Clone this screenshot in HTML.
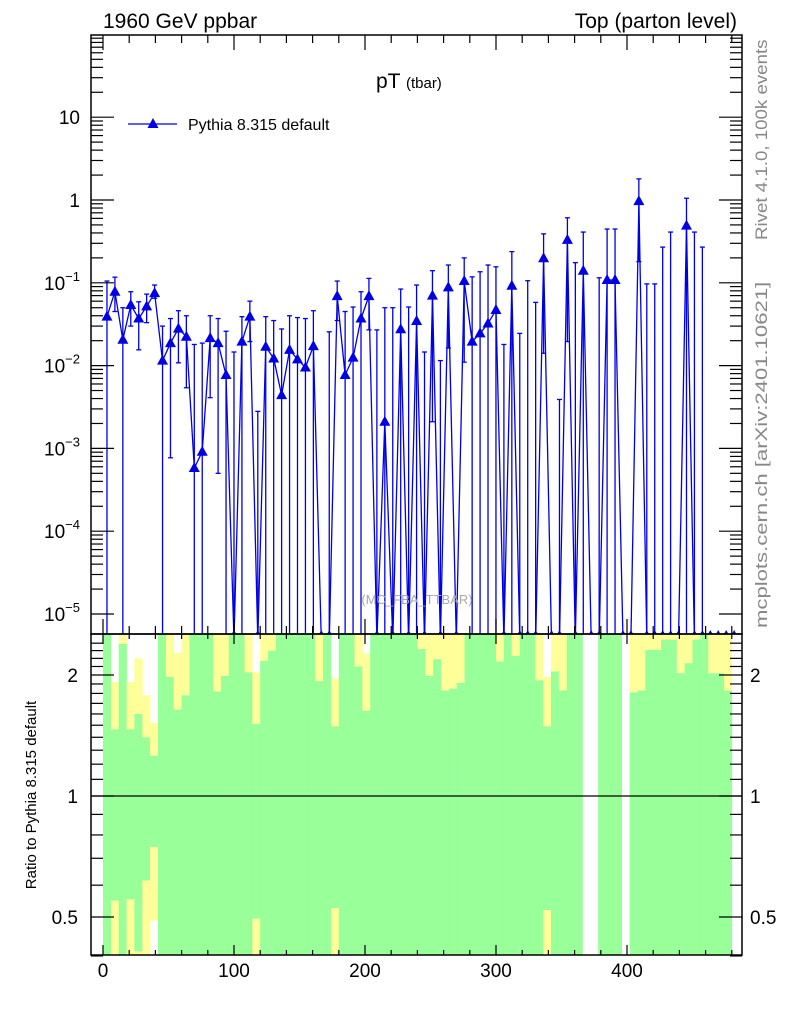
<!DOCTYPE html>
<html><head><meta charset="utf-8">
<style>
html,body{margin:0;padding:0;background:#fff;}
svg{display:block;font-family:"Liberation Sans",Arial,sans-serif;}
</style></head>
<body>
<svg id="chart" width="786" height="1024" viewBox="0 0 786 1024" xmlns="http://www.w3.org/2000/svg">
<defs>
<clipPath id="mainClip"><rect x="91" y="35" width="651" height="599"/></clipPath>
<clipPath id="ratioClip"><rect x="91" y="634" width="651" height="321"/></clipPath>
</defs>
<g id="ratioLayer" clip-path="url(#ratioClip)"></g>
<g id="mainLayer" clip-path="url(#mainClip)"></g>
<g id="axes"></g>
<text x="103" y="28" font-size="21">1960 GeV ppbar</text>
<text x="737" y="28" font-size="21" text-anchor="end">Top (parton level)</text>
<text x="376" y="88" font-size="21">pT <tspan font-size="15">(tbar)</tspan></text>
<g>
<line x1="128" y1="124" x2="177" y2="124" stroke="#0000e6" stroke-width="1.3"/>
<polygon points="153,118 147.5,128 158.5,128" fill="#0000e6"/>
<text x="188" y="130" font-size="16">Pythia 8.315 default</text>
</g>
<text x="417" y="604" font-size="13" fill="#aaaaaa" text-anchor="middle">(MC_FBA_TTBAR)</text>
<g transform="translate(767,240) rotate(-90)"><text transform="scale(1.1,1)" x="0" y="0" font-size="17" fill="#888">Rivet 4.1.0,  100k events</text></g>
<g transform="translate(767,628) rotate(-90)"><text transform="scale(1.3,1)" x="0" y="0" font-size="17" fill="#888">mcplots.cern.ch [arXiv:2401.10621]</text></g>
<text transform="translate(36,795) rotate(-90)" font-size="15" text-anchor="middle">Ratio to Pythia 8.315 default</text>
</svg>
<script>
const binWidth = 6, mainBinWidth = 6.06, nBins = 80;
const values = [0.039,0.078,0.0205,0.054,0.037,0.052,0.075,0.0115,0.0187,0.028,
0.0223,0.00058,0.00091,0.0215,0.0187,0.0077,0,0.0195,0.039,0,
0.0169,0.0122,0.0044,0.0155,0.0119,0.0095,0.0172,0,0,0.069,
0.0077,0.0125,0.037,0.069,0,0.0021,0,0.0275,0,0.0346,
0,0.070,0,0.088,0,0.105,0.0195,0.0245,0.0323,0.047,
0,0.092,0,0,0,0.198,0,0,0.33,0,
0.14,0,0,0.108,0.108,0,0,0.97,0,0,
0,0,0,0.49,0,0,0,0,0,0];
const errHi = [0.105,0.117,0.05,0.078,0.059,0.073,0.094,0.030,0.037,0.046,
0.040,0.018,0.0187,0.040,0.037,0.026,0.0146,0.039,0.060,0.0028,
0.039,0.035,0.0277,0.040,0.038,0.037,0.046,0,0.0256,0.105,
0.045,0.051,0.078,0.113,0.027,0.050,0.05,0.084,0.051,0.094,
0.0146,0.14,0.0115,0.164,0,0.20,0.118,0.136,0.164,0.156,
0.018,0.238,0.0245,0.106,0.058,0.39,0,0.0039,0.61,0.175,
0.41,0,0.115,0.446,0.446,0,0,1.8,0.097,0.097,
0.27,0.41,0,1.05,0.41,0.27,0,0,0,0];
const errLo = [0,0.045,0,0.030,0.0155,0.033,0.065,0,0.00077,0.0108,
0.0054,0,0,0.0041,0.0005,0,0,0,0.0195,0,
0,0,0,0,0,0,0,0,0,0.035,
0,0,0,0.027,0,0,0,0,0,0,
0,0.0021,0,0.0163,0,0.011,0,0,0,0,
0,0,0,0,0,0.0141,0,0,0.0195,0,
0,0,0,0,0,0,0,0.18,0,0,
0,0,0,0,0,0,0,0,0,0];
const yelHi = [3,1.92,3,1.92,2.20,1.78,1.52,3,3,2.27,
3,3,3,3,3,3,3,3,3,2.03,
3,3,3,3,3,3,3,3,3,1.96,
3,3,3,2.26,3,3,3,3,3,3,
3,3,3,3,3,3,3,3,3,3,
3,3,3,3,3,3,1.98,3,3,3,
3,1,1,3,3,3,1,3,3,3,
3,3,3,3,3,3,3,3,3,3];
const grnHi = [3,1.465,2.39,1.465,1.60,1.40,1.26,3,1.98,1.64,
1.78,3,3,3,1.82,1.99,3,3,2.03,1.51,
2.17,2.30,3,3,3,3,3,1.93,3,1.49,
3,3,2.10,1.63,3,3,3,3,3,3,
2.32,1.99,2.19,1.83,1.85,1.91,3,3,3,3,
2.16,3,2.23,3,3,1.94,1.49,2.04,1.83,3,
3,1,1,3,3,3,1,1.81,1.83,2.31,
2.31,2.45,2.45,2.02,2.14,2.45,3,2.02,2.02,1.83];
const grnLo = [0.3,0.549,0.3,0.553,0.41,0.616,0.747,0.3,0.3,0.3,
0.3,0.3,0.3,0.3,0.3,0.3,0.3,0.3,0.3,0.495,
0.3,0.3,0.3,0.3,0.3,0.3,0.3,0.3,0.3,0.526,
0.3,0.3,0.3,0.3,0.3,0.3,0.3,0.3,0.3,0.3,
0.3,0.3,0.3,0.3,0.3,0.3,0.3,0.3,0.3,0.3,
0.3,0.3,0.3,0.3,0.3,0.3,0.52,0.3,0.3,0.3,
0.3,1,1,0.3,0.3,0.3,1,0.3,0.3,0.3,
0.3,0.3,0.3,0.3,0.3,0.3,0.3,0.3,0.3,0.3];
const yelLo = [0.3,0.3,0.3,0.3,0.3,0.3,0.49,0.3,0.3,0.3,
0.3,0.3,0.3,0.3,0.3,0.3,0.3,0.3,0.3,0.3,
0.3,0.3,0.3,0.3,0.3,0.3,0.3,0.3,0.3,0.3,
0.3,0.3,0.3,0.3,0.3,0.3,0.3,0.3,0.3,0.3,
0.3,0.3,0.3,0.3,0.3,0.3,0.3,0.3,0.3,0.3,
0.3,0.3,0.3,0.3,0.3,0.3,0.3,0.3,0.3,0.3,
0.3,1,1,0.3,0.3,0.3,1,0.3,0.3,0.3,
0.3,0.3,0.3,0.3,0.3,0.3,0.3,0.3,0.3,0.3];
const xTickLabels = [0,100,200,300,400];
const yDecades = [-5,-4,-3,-2,-1,0,1];
const ratioTickLabels = [0.5,1,2];

const NS = "http://www.w3.org/2000/svg";
const X0 = 103, XS = 1.31;
function xp(v){ return X0 + XS*v; }
function yMain(v){ return 200 - 82.8*Math.log10(v); }
function yRatio(r){ return 796 - 121*Math.log2(r); }
function mk(tag, attrs, parent){
  const e = document.createElementNS(NS, tag);
  for (const k in attrs) e.setAttribute(k, attrs[k]);
  parent.appendChild(e); return e;
}
const BOTTOM = 640;
function yv(v){ return v > 0 ? yMain(v) : BOTTOM; }

const rl = document.getElementById('ratioLayer');
for (let i = 0; i < nBins; i++) {
  const xa = xp(i*binWidth), w = XS*binWidth + 0.3;
  const segs = [[yelHi[i], grnHi[i], '#ffff99'], [grnHi[i], grnLo[i], '#99ff99'], [grnLo[i], yelLo[i], '#ffff99']];
  segs.forEach(s => {
    const y1 = yRatio(s[0]), y2 = yRatio(s[1]);
    if (y2 - y1 > 0.1) {
      const r = mk('rect', {x: xa, y: y1, width: w, height: y2 - y1, fill: s[2]}, rl);
      
      
    }
  });
}
mk('line', {x1: 91, x2: 742, y1: yRatio(1), y2: yRatio(1), stroke: '#000', 'stroke-width': 1.2}, rl);

const ml = document.getElementById('mainLayer');
let pts = [];
function cxOf(i){ return xp(i*mainBinWidth + mainBinWidth/2); }
for (let i = 0; i < nBins; i++) pts.push(cxOf(i).toFixed(1) + ',' + yv(values[i]).toFixed(1));
const pl = mk('polyline', {points: pts.join(' '), fill: 'none', stroke: '#0000e6', 'stroke-width': 1.3}, ml);


for (let i = 0; i < nBins; i++) {
  const cx = cxOf(i);
  if (errHi[i] > 0) {
    const top = yMain(errHi[i]), bot = yv(errLo[i]);
    const eb = mk('g', {stroke: '#0000e6', 'stroke-width': 1.3}, ml);
    
    
    mk('line', {x1: cx, x2: cx, y1: top, y2: bot}, eb);
    mk('line', {x1: cx-2.5, x2: cx+2.5, y1: top, y2: top}, eb);
    if (errLo[i] > 0) mk('line', {x1: cx-2.5, x2: cx+2.5, y1: bot, y2: bot}, eb);
  }
  const cy = values[i] > 0 ? yMain(values[i]) : 636;
  const m = mk('polygon', {points: `${cx},${cy-6} ${cx-5.5},${cy+4} ${cx+5.5},${cy+4}`, fill: '#0000e6'}, ml);
  
  
}

const ax = document.getElementById('axes');
const fr1 = mk('rect', {x: 91, y: 35, width: 651, height: 599, fill: 'none', stroke: '#000', 'stroke-width': 1.5}, ax);


const fr2 = mk('rect', {x: 91, y: 634, width: 651, height: 321, fill: 'none', stroke: '#000', 'stroke-width': 1.5}, ax);


function ln(x1,y1,x2,y2){ mk('line', {x1,y1,x2,y2, stroke:'#000','stroke-width':1.2}, ax); }
for (let v = 0; v <= 480; v += 20) {
  const x = xp(v); const major = v % 100 === 0;
  const L = major ? 15 : 8, Lr = major ? 10 : 5;
  ln(x,35,x,35+L); ln(x,634,x,634-L);
  ln(x,634,x,634+Lr); ln(x,955,x,955-Lr);
}
xTickLabels.forEach(v => {
  const t = mk('text', {x: xp(v), y: 977, 'font-size': 19, 'text-anchor': 'middle'}, ax);
  t.textContent = v;
  
  
});
yDecades.forEach(d => {
  for (let k = 1; k <= 9; k++) {
    const y = yMain(k*Math.pow(10,d));
    if (y < 35 || y > 634) continue;
    const L = k === 1 ? 23 : 12;
    ln(91,y,91+L,y); ln(742,y,742-L,y);
  }
  const y = yMain(Math.pow(10,d));
  const t = mk('text', {x: 80, y: y+7, 'font-size': 19, 'text-anchor': 'end'}, ax);
  
  
  if (d === 0) t.textContent = '1';
  else if (d === 1) t.textContent = '10';
  else { t.textContent = '10'; const s = mk('tspan', {dy: -9, 'font-size': 13}, t); s.textContent = '\u2212' + (-d); }
});
for (let r = 0.4; r <= 2.5; r += 0.1) {
  const rr = Math.round(r*10)/10;
  const y = yRatio(rr);
  const major = [0.5,1,2].includes(rr);
  const L = major ? 23 : 12;
  ln(91,y,91+L,y); ln(742,y,742-L,y);
}
ratioTickLabels.forEach(r => {
  const y = yRatio(r);
  const t1 = mk('text', {x: 78, y: y+7, 'font-size': 19, 'text-anchor': 'end'}, ax);
  t1.textContent = r;
  
  
  const t2 = mk('text', {x: 750, y: y+7, 'font-size': 19}, ax);
  t2.textContent = r;
  
  
});
</script>
</body></html>
